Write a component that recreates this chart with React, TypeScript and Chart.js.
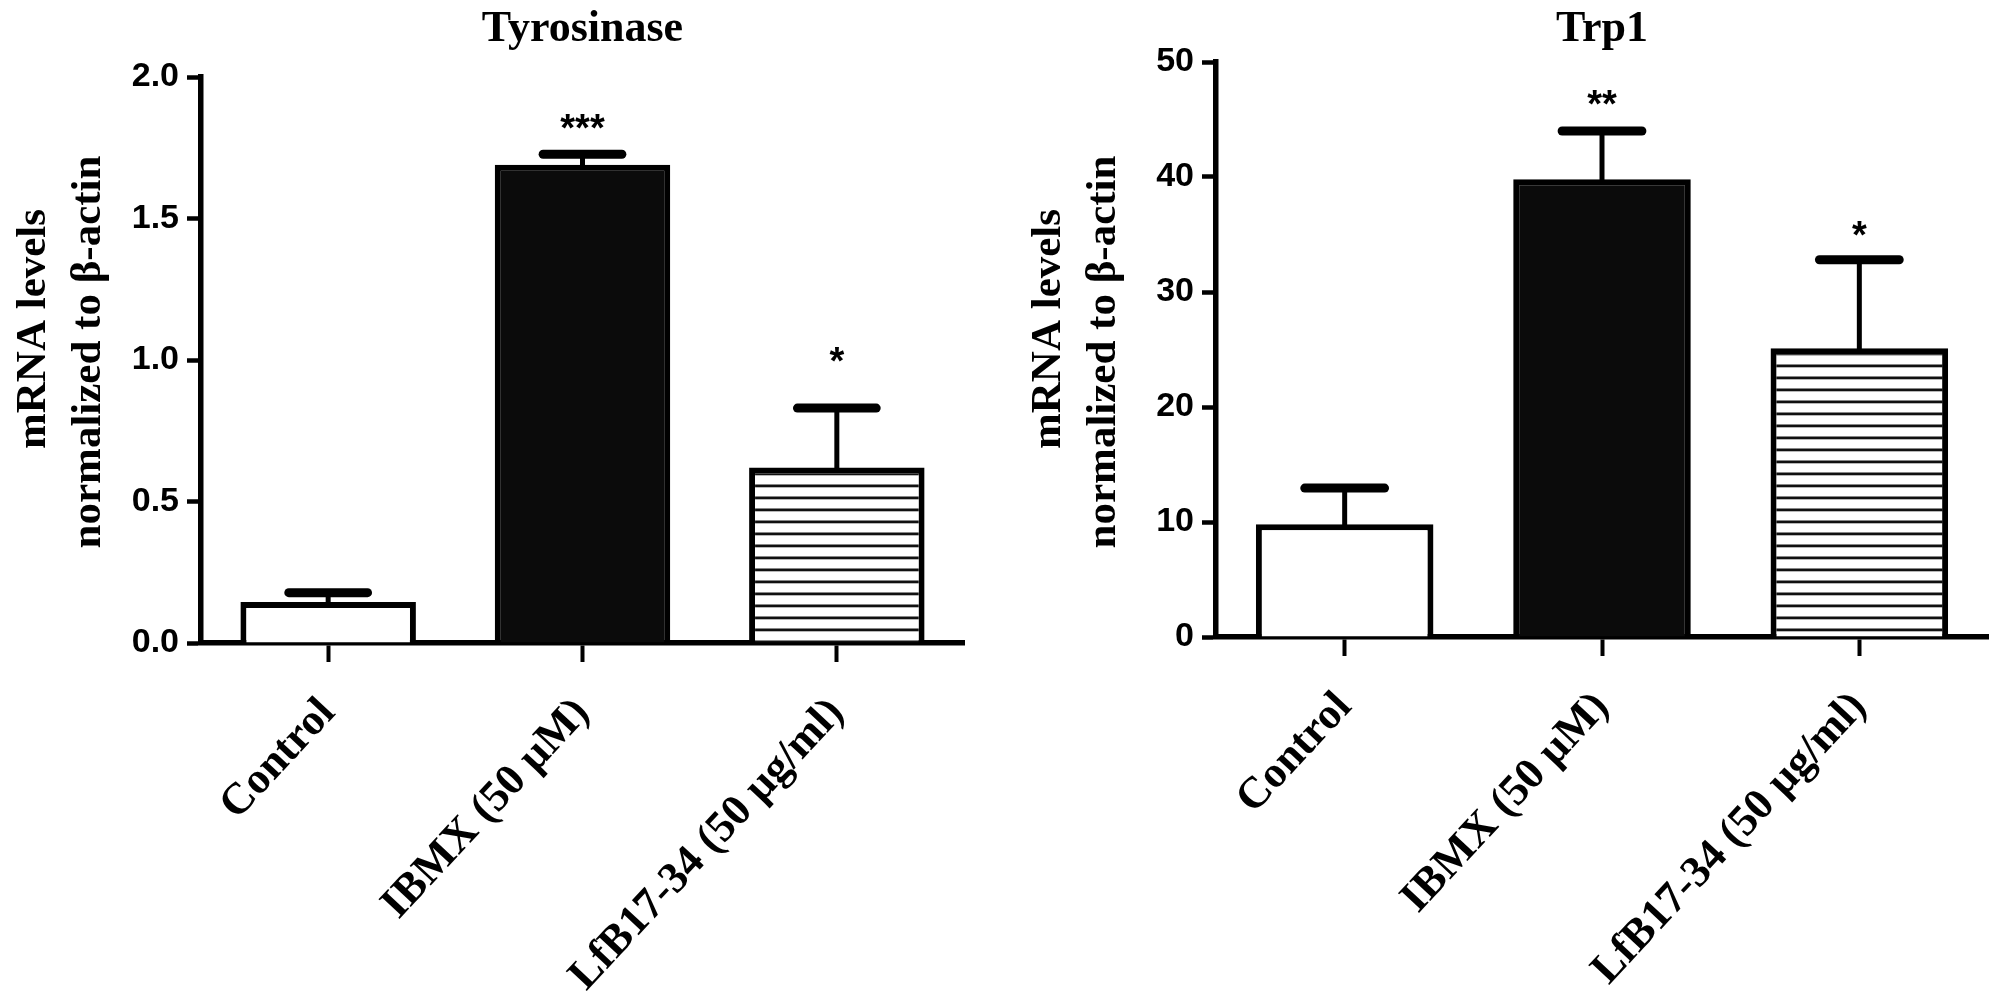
import React, { useEffect, useRef } from "react";
import { Chart, registerables } from "chart.js";

Chart.register(...registerables);

// ---------------- data ----------------
const categories = ["Control", "IBMX (50 µM)", "LfB17-34 (50 µg/ml)"];

const tyrosinaseMeans = [0.145, 1.69, 0.62];
const tyrosinaseErrors = [0.033, 0.037, 0.21];
const tyrosinaseStars = ["", "***", "*"];
const tyrosinaseStarLevels = [null, 1.85, 1.03];
const tyrosinaseAxis = { max: 2.0, step: 0.5, decimals: 1 };

const trp1Means = [9.8, 39.8, 25.1];
const trp1Errors = [3.15, 4.2, 7.7];
const trp1Stars = ["", "**", "*"];
const trp1StarLevels = [null, 47.1, 35.7];
const trp1Axis = { max: 50, step: 10, decimals: 0 };

const yAxisTitle = ["mRNA levels", "normalized to β-actin"];

// ---------------- styles ----------------
const SERIF = '"Liberation Serif", "Times New Roman", serif';
const SANS = '"Liberation Sans", Arial, sans-serif';
const CANVAS_W = 1004;
const CANVAS_H = 999;
const TITLE_SIZE = 44;

function makeHatch(): CanvasPattern | string {
  const c = document.createElement("canvas");
  c.width = 12;
  c.height = 12;
  const g = c.getContext("2d");
  if (!g) return "#fff";
  g.fillStyle = "#ffffff";
  g.fillRect(0, 0, 12, 12);
  g.fillStyle = "#111111";
  g.fillRect(0, 4.5, 12, 2.8);
  return g.createPattern(c, "repeat") || "#fff";
}

type PanelProps = {
  title: string;
  means: number[];
  errors: number[];
  stars: string[];
  starLevels: (number | null)[];
  axis: { max: number; step: number; decimals: number };
  area: { left: number; right: number; top: number; bottom: number };
  left: number;
  yTitleY: [number, number];
};

function Panel(props: PanelProps) {
  const ref = useRef<HTMLCanvasElement | null>(null);

  useEffect(() => {
    const canvas = ref.current;
    if (!canvas) return;
    const { title, means, errors, stars, starLevels, axis, area, yTitleY } = props;
    const hatch = makeHatch();
    const titleLH = TITLE_SIZE * 1.2;

    const overlay = {
      id: "overlay",
      afterDatasetsDraw(chart: any) {
        const ctx = chart.ctx as CanvasRenderingContext2D;
        const meta = chart.getDatasetMeta(0);
        const ys = chart.scales.y;
        ctx.save();
        ctx.strokeStyle = "#000";
        ctx.fillStyle = "#000";
        meta.data.forEach((bar: any, i: number) => {
          const x = bar.x;
          const top = ys.getPixelForValue(means[i]);
          const capY = ys.getPixelForValue(means[i] + errors[i]);
          // stem
          ctx.lineCap = "butt";
          ctx.lineWidth = 5;
          ctx.beginPath();
          ctx.moveTo(x, top + 2);
          ctx.lineTo(x, capY);
          ctx.stroke();
          // cap
          const half = bar.width * 0.25;
          ctx.lineCap = "round";
          ctx.lineWidth = 9;
          ctx.beginPath();
          ctx.moveTo(x - half + 4.5, capY);
          ctx.lineTo(x + half - 4.5, capY);
          ctx.stroke();
          // significance stars
          const lvl = starLevels[i];
          if (stars[i] && lvl !== null && lvl !== undefined) {
            const size = 38;
            ctx.font = `bold ${size}px ${SANS}`;
            ctx.textAlign = "center";
            ctx.textBaseline = "alphabetic";
            ctx.fillText(stars[i], x, ys.getPixelForValue(lvl) + 0.58 * size);
          }
        });
        ctx.restore();
      },
      afterDraw(chart: any) {
        const ctx = chart.ctx as CanvasRenderingContext2D;
        const ca = chart.chartArea;
        ctx.save();
        ctx.fillStyle = "#000";
        ctx.font = `bold 43px ${SERIF}`;
        ctx.textAlign = "center";
        ctx.textBaseline = "middle";
        const xs = [ca.left - 167, ca.left - 112];
        yAxisTitle.forEach((line, k) => {
          ctx.save();
          ctx.translate(xs[k], yTitleY[k]);
          ctx.rotate(-Math.PI / 2);
          ctx.fillText(line, 0, 0);
          ctx.restore();
        });
        ctx.restore();
      },
    };

    const chart = new Chart(canvas, {
      type: "bar",
      data: {
        labels: categories,
        datasets: [
          {
            data: means,
            backgroundColor: ["#ffffff", "#0b0b0b", hatch as any],
            borderColor: "#000000",
            borderWidth: 6,
            borderSkipped: "start",
            barPercentage: 0.69,
            categoryPercentage: 1,
          },
        ],
      },
      options: {
        responsive: false,
        animation: false,
        devicePixelRatio: 1,
        layout: {
          padding: { left: 0, right: CANVAS_W - area.right, top: 0, bottom: 0 },
        },
        plugins: {
          legend: { display: false },
          tooltip: { enabled: false },
          title: {
            display: true,
            text: title,
            fullSize: false,
            color: "#000",
            font: { family: SERIF, size: TITLE_SIZE, weight: "bold", lineHeight: 1.2 },
            padding: { top: 3, bottom: area.top - 3 - titleLH },
          },
        },
        scales: {
          x: {
            type: "category",
            offset: true,
            grid: {
              display: true,
              drawOnChartArea: false,
              drawTicks: true,
              tickLength: 19,
              tickWidth: 4,
              tickColor: "#000",
              offset: false,
            },
            border: { display: true, color: "#000", width: 5.5 },
            ticks: {
              autoSkip: false,
              maxRotation: 47,
              minRotation: 47,
              padding: 26,
              color: "#000",
              font: { family: SERIF, size: 44, weight: "bold" },
            },
            afterFit: (s: any) => {
              s.height = CANVAS_H - area.bottom;
            },
          },
          y: {
            min: 0,
            max: axis.max,
            grid: {
              display: true,
              drawOnChartArea: false,
              drawTicks: true,
              tickLength: 14,
              tickWidth: 4.5,
              tickColor: "#000",
            },
            border: { display: true, color: "#000", width: 5.5 },
            ticks: {
              stepSize: axis.step,
              padding: 8,
              color: "#000",
              font: { family: SANS, size: 34, weight: "bold" },
              callback: (v: any) => Number(v).toFixed(axis.decimals),
            },
            afterFit: (s: any) => {
              s.width = area.left;
            },
          },
        },
      } as any,
      plugins: [overlay],
    });

    return () => chart.destroy();
  }, []);

  return (
    <canvas
      ref={ref}
      width={CANVAS_W}
      height={CANVAS_H}
      style={{ position: "absolute", left: props.left, top: 0, width: CANVAS_W, height: CANVAS_H }}
    />
  );
}

export default function App() {
  return (
    <div
      style={{
        position: "absolute",
        left: 0,
        top: 0,
        width: 2008,
        height: 999,
        background: "#ffffff",
        overflow: "hidden",
      }}
    >
      <Panel
        title="Tyrosinase"
        means={tyrosinaseMeans}
        errors={tyrosinaseErrors}
        stars={tyrosinaseStars}
        starLevels={tyrosinaseStarLevels}
        axis={tyrosinaseAxis}
        area={{ left: 201, right: 964, top: 77, bottom: 643 }}
        left={0}
        yTitleY={[329, 352]}
      />
      <Panel
        title="Trp1"
        means={trp1Means}
        errors={trp1Errors}
        stars={trp1Stars}
        starLevels={trp1StarLevels}
        axis={trp1Axis}
        area={{ left: 212, right: 984, top: 62, bottom: 637 }}
        left={1004}
        yTitleY={[329, 352]}
      />
    </div>
  );
}
